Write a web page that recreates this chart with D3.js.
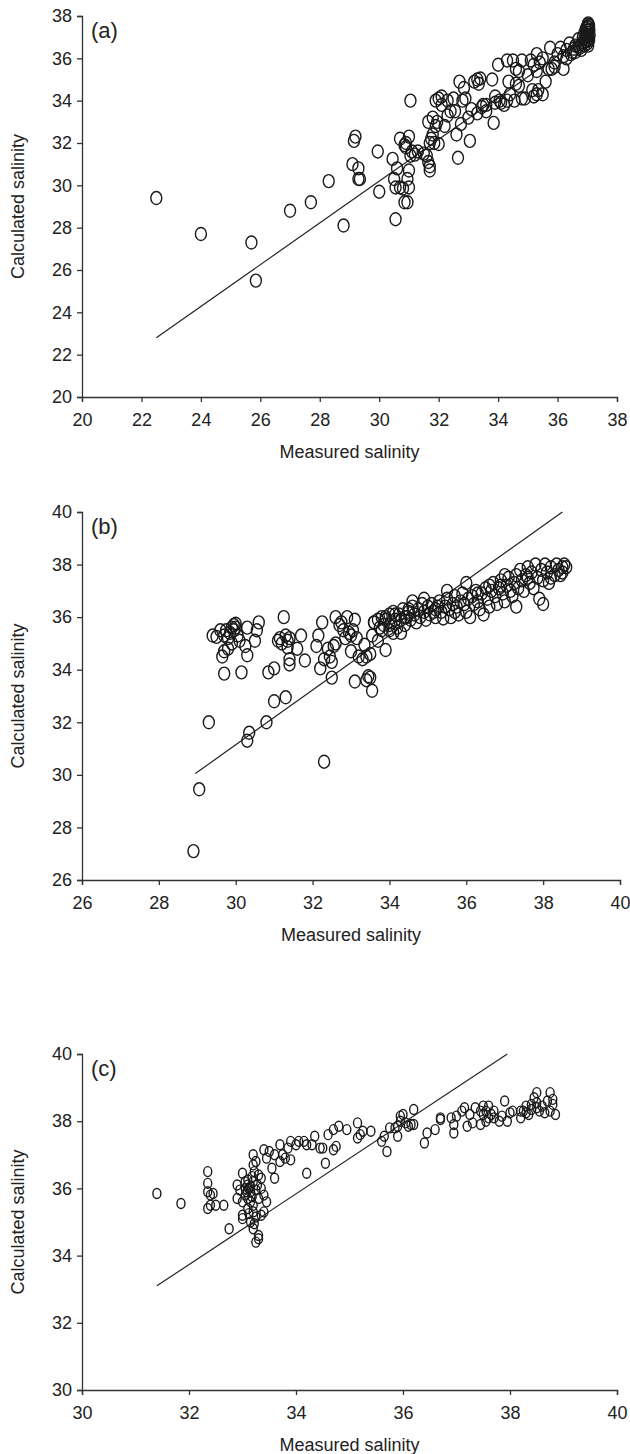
<!DOCTYPE html>
<html>
<head>
<meta charset="utf-8">
<script src="https://cdn.jsdelivr.net/npm/d3@7"></script>
<style>
  body { margin: 0; background: #fff; }
  text { font-family: "Liberation Sans", Arial, sans-serif; fill: #222; }
</style>
</head>
<body>
<div id="chart"></div>
<script>
// ---- panel (a) ----
const ticksA = [20, 22, 24, 26, 28, 30, 32, 34, 36, 38];
const fitA = [[22.5, 22.8], [37.0, 37.1]];
const pointsA = [
  [22.5, 29.4], [24.0, 27.7], [25.7, 27.3], [25.85, 25.5], [27.0, 28.8], [27.7, 29.2],
  [28.3, 30.2], [28.8, 28.1], [29.1, 31.0], [29.15, 32.1], [29.2, 32.3], [29.3, 30.8],
  [29.3, 30.3], [29.35, 30.3], [29.95, 31.6], [30.0, 29.7], [30.45, 31.25], [30.5, 30.3],
  [30.55, 29.9], [30.55, 28.4], [30.6, 30.8], [30.7, 32.2], [30.7, 29.9], [30.8, 29.85],
  [30.85, 31.9], [30.85, 29.2], [30.9, 32.0], [30.95, 29.2], [30.95, 30.3], [31.0, 30.7],
  [31.0, 29.9], [31.0, 32.3], [31.05, 34.0], [31.05, 31.4], [31.1, 31.6], [31.2, 31.45],
  [31.5, 31.5], [31.6, 31.4], [31.65, 31.1], [31.7, 30.9], [31.7, 30.7], [31.65, 33.0],
  [31.75, 32.2], [31.8, 32.4], [31.8, 33.2], [31.85, 32.0], [31.9, 34.0], [31.95, 33.0],
  [32.0, 31.95], [32.0, 34.1], [32.1, 34.2], [32.1, 33.8], [32.2, 32.8], [32.3, 34.0],
  [32.4, 33.5], [32.5, 34.1], [32.55, 33.5], [32.6, 32.4], [32.65, 31.3], [32.7, 34.9],
  [32.75, 32.9], [32.8, 34.0], [32.85, 34.6], [32.9, 34.1], [33.0, 33.2], [33.05, 32.1],
  [33.1, 33.6], [33.2, 34.9], [33.3, 35.0], [33.35, 34.8], [33.4, 35.05], [33.3, 33.4],
  [33.45, 33.7], [33.6, 33.8], [33.8, 35.0], [33.85, 32.95], [33.9, 33.9], [34.0, 35.7],
  [34.05, 34.0], [34.1, 33.9], [34.2, 33.8], [34.3, 34.0], [34.35, 34.9], [34.3, 35.9],
  [34.5, 35.9], [34.55, 34.0], [34.6, 34.8], [34.7, 35.4], [34.8, 35.9], [34.8, 34.1],
  [34.9, 34.1], [35.1, 35.9], [35.15, 34.5], [35.2, 34.2], [35.3, 34.3], [35.35, 34.5],
  [35.3, 36.2], [35.4, 35.8], [35.5, 34.3], [35.5, 36.0], [35.6, 34.9], [35.7, 35.5],
  [35.75, 36.5], [35.8, 35.5], [35.9, 35.6], [36.0, 36.2], [36.1, 36.5], [36.2, 35.5],
  [36.2, 36.1], [36.3, 36.4], [36.4, 36.7], [36.5, 36.3], [36.6, 36.6], [36.7, 36.9],
  [36.75, 36.5], [36.8, 36.7], [36.85, 37.0], [36.9, 37.2], [36.95, 37.4], [37.0, 37.5],
  [37.02, 37.6], [37.05, 36.9], [37.05, 37.3], [37.0, 37.05], [37.05, 37.0], [36.95, 36.8],
  [37.0, 36.7], [37.02, 37.2], [37.04, 37.45], [37.06, 37.55], [36.98, 37.3], [37.0, 36.9],
  [33.5, 33.8], [33.9, 34.2], [34.4, 34.3], [34.7, 34.7], [35.0, 35.2], [35.3, 35.4],
  [35.9, 35.8], [36.3, 36.0], [36.6, 36.3], [36.9, 36.6], [36.8, 36.4], [37.08, 37.1],
  [37.07, 37.35], [37.03, 37.65], [36.97, 37.1], [36.92, 36.95], [36.88, 36.75], [37.06, 36.85],
  [37.03, 36.6], [36.7, 36.55], [36.55, 36.45], [36.45, 36.2], [35.2, 35.7], [34.6, 35.5],
  [33.6, 33.5], [32.3, 33.3], [31.7, 32.0], [31.9, 32.8], [31.3, 31.6], [30.9, 31.8]
];

// ---- panel (b) ----
const ticksB = [26, 28, 30, 32, 34, 36, 38, 40];
const fitB = [[28.95, 30.05], [38.5, 40.0]];
const pointsB = [
  [28.9, 27.1], [29.05, 29.45], [29.3, 32.0], [30.3, 31.3], [30.35, 31.6], [30.8, 32.0],
  [31.0, 32.8], [31.3, 32.95], [32.3, 30.5], [32.5, 33.7], [33.1, 33.55], [33.4, 33.6],
  [33.5, 33.7], [33.55, 33.2], [33.45, 33.75],
  [29.4, 35.3], [29.5, 35.25], [29.6, 35.5], [29.7, 35.3], [29.75, 35.5], [29.8, 35.2],
  [29.85, 35.4], [29.9, 35.6], [29.95, 35.7], [30.0, 35.75], [30.0, 35.6], [29.95, 35.5],
  [30.05, 35.3], [29.9, 35.0], [29.8, 34.8], [29.7, 34.7], [29.65, 34.5], [29.7, 33.85],
  [30.15, 33.9], [30.1, 35.1], [30.25, 34.9], [30.3, 35.6], [30.3, 34.55], [30.5, 35.1],
  [30.55, 35.5], [30.6, 35.8], [30.85, 33.9], [31.0, 34.05], [31.1, 35.1], [31.15, 35.2],
  [31.2, 35.0], [31.25, 36.0], [31.3, 35.3], [31.35, 35.1], [31.4, 35.2], [31.35, 34.85],
  [31.4, 34.4], [31.4, 34.2], [31.6, 34.8], [31.7, 35.3], [31.8, 34.35], [32.1, 34.9],
  [32.15, 35.3], [32.2, 34.05], [32.25, 35.8], [32.3, 34.4], [32.4, 34.8], [32.45, 34.5],
  [32.5, 34.3], [32.55, 34.9], [32.6, 35.0], [32.6, 36.0], [32.7, 35.7], [32.75, 35.8],
  [32.8, 35.5], [32.85, 35.2], [32.9, 36.0], [32.95, 35.4], [33.0, 35.3], [33.0, 34.7],
  [33.05, 35.5], [33.1, 35.9], [33.15, 35.2], [33.2, 34.5], [33.3, 34.4], [33.35, 34.95],
  [33.4, 34.5], [33.5, 34.6], [33.55, 35.3], [33.6, 35.8], [33.7, 35.1], [33.8, 35.5],
  [33.9, 34.75], [33.9, 36.0], [34.0, 35.7], [34.1, 35.4], [34.15, 36.1], [34.3, 35.4],
  [34.4, 36.0], [34.5, 36.3],
  [33.6, 35.8], [33.7, 35.9], [33.75, 35.6], [33.8, 36.0], [33.85, 35.7], [33.9, 35.9],
  [34.0, 36.1], [34.0, 35.5], [34.05, 35.8], [34.1, 36.2], [34.15, 35.9], [34.2, 35.6],
  [34.25, 36.1], [34.3, 35.9], [34.35, 36.3], [34.4, 35.7], [34.45, 36.0], [34.5, 36.2],
  [34.55, 35.9], [34.6, 36.4], [34.65, 36.1], [34.7, 35.8], [34.75, 36.3], [34.8, 36.0],
  [34.85, 36.5], [34.9, 36.2], [34.95, 35.9], [35.0, 36.4], [35.05, 36.1], [35.1, 36.5],
  [35.15, 36.2], [35.2, 36.0], [35.25, 36.4], [35.3, 36.6], [35.35, 36.2], [35.4, 35.95],
  [35.45, 36.4], [35.5, 36.7], [35.55, 36.3], [35.6, 36.0], [35.65, 36.5], [35.7, 36.8],
  [35.75, 36.4], [35.8, 36.1], [35.85, 36.6], [35.9, 36.9], [35.95, 36.5], [36.0, 37.3],
  [36.0, 36.2], [36.05, 36.7], [36.1, 36.0], [36.15, 36.8], [36.2, 36.5], [36.25, 37.0],
  [36.3, 36.6], [36.35, 36.3], [36.4, 36.9], [36.45, 36.1], [36.5, 37.1], [36.55, 36.7],
  [36.6, 36.4], [36.65, 37.0], [36.7, 37.3], [36.75, 36.8], [36.8, 36.5], [36.85, 37.1],
  [36.9, 37.4], [36.95, 36.9], [37.0, 36.6], [37.05, 37.2], [37.1, 37.5], [37.15, 37.0],
  [37.2, 36.8], [37.25, 37.3], [37.3, 37.6], [37.3, 36.4], [37.35, 37.1], [37.4, 37.8],
  [37.45, 37.4], [37.5, 37.0], [37.55, 37.6], [37.6, 37.9], [37.65, 37.3], [37.7, 37.7],
  [37.75, 37.1], [37.8, 38.0], [37.85, 37.5], [37.9, 36.7], [37.95, 37.8], [38.0, 36.5],
  [38.0, 37.4], [38.05, 38.0], [38.1, 37.7], [38.15, 37.3], [38.2, 37.9], [38.3, 37.6],
  [38.35, 38.0], [38.4, 37.8], [38.45, 37.6], [38.5, 37.9], [38.55, 38.0], [38.6, 37.9],
  [36.9, 37.2], [36.3, 36.9], [35.7, 36.2], [35.2, 36.3], [35.5, 37.0], [34.9, 36.7],
  [34.6, 36.6], [36.6, 37.2], [37.0, 37.6], [37.6, 37.5], [38.2, 37.5], [38.5, 37.7]
];

// ---- panel (c) ----
const ticksC = [30, 32, 34, 36, 38, 40];
const fitC = [[31.4, 33.1], [37.95, 40.0]];
const pointsC = [
  [31.4, 35.85], [31.85, 35.55], [32.35, 36.5], [32.35, 36.15], [32.35, 35.9], [32.4, 35.8],
  [32.35, 35.4], [32.4, 35.5], [32.45, 35.85], [32.5, 35.5], [32.65, 35.5], [32.75, 34.8],
  [32.9, 35.7], [32.9, 36.1], [32.95, 35.95], [33.0, 36.45], [33.0, 35.6], [33.0, 35.2],
  [33.0, 35.1], [33.05, 36.0], [33.1, 36.1], [33.12, 36.0], [33.08, 35.9], [33.15, 35.9],
  [33.2, 36.2], [33.2, 35.5], [33.15, 35.0], [33.2, 34.8], [33.25, 34.4], [33.3, 34.5],
  [33.3, 34.6], [33.2, 36.7], [33.25, 36.8], [33.2, 37.0], [33.4, 37.15], [33.35, 36.3],
  [33.4, 35.8], [33.45, 35.6], [33.4, 35.3], [33.35, 35.2], [33.45, 36.9], [33.1, 35.7],
  [33.15, 35.6], [33.1, 35.4], [33.18, 36.35], [33.22, 36.5], [33.1, 36.25], [33.05, 35.8],
  [33.15, 36.05], [33.2, 35.3], [33.25, 35.15], [33.28, 36.1], [33.3, 36.4], [33.12, 35.25],
  [33.18, 35.75], [33.25, 35.95], [33.05, 36.2], [33.3, 35.7], [33.22, 34.95], [33.35, 36.0],
  [33.5, 37.1], [33.55, 36.6], [33.6, 37.0], [33.6, 36.3], [33.7, 36.8], [33.7, 37.3],
  [33.75, 37.0], [33.8, 36.9], [33.85, 37.2], [33.9, 36.85], [33.9, 37.4], [34.0, 37.3],
  [34.05, 37.4], [34.15, 37.4], [34.2, 37.3], [34.2, 36.45], [34.3, 37.3], [34.35, 37.55],
  [34.45, 37.2], [34.5, 37.2], [34.55, 36.75], [34.6, 37.6], [34.7, 37.15], [34.7, 37.75],
  [34.75, 37.25], [34.8, 37.85], [34.95, 37.75], [35.15, 37.95], [35.15, 37.5], [35.2, 37.6],
  [35.25, 37.7], [35.4, 37.7], [35.6, 37.4], [35.65, 37.55], [35.7, 37.1], [35.75, 37.8],
  [35.85, 37.8], [35.9, 37.55], [35.9, 37.85], [35.95, 38.15], [35.95, 38.0], [36.0, 38.2],
  [36.05, 37.95], [36.1, 37.85], [36.15, 37.9], [36.2, 38.35], [36.2, 37.9], [36.4, 37.35],
  [36.45, 37.65], [36.6, 37.75], [36.7, 38.05], [36.7, 38.1], [36.9, 38.1], [36.95, 37.65],
  [36.95, 37.9], [37.0, 38.15], [37.1, 38.3], [37.15, 38.4], [37.2, 37.85], [37.25, 38.2],
  [37.3, 37.95], [37.35, 38.4], [37.45, 37.9], [37.5, 38.45], [37.5, 38.2], [37.55, 38.0],
  [37.55, 38.3], [37.6, 38.45], [37.65, 38.2], [37.7, 38.1], [37.7, 38.3], [37.8, 38.0],
  [37.85, 38.15], [37.9, 38.6], [37.95, 38.0], [38.0, 38.25], [38.05, 38.3], [38.2, 38.1],
  [38.25, 38.3], [38.3, 38.25], [38.3, 38.45], [38.35, 38.2], [38.4, 38.35], [38.45, 38.7],
  [38.5, 38.85], [38.5, 38.55], [38.55, 38.3], [38.6, 38.45], [38.65, 38.25], [38.7, 38.6],
  [38.75, 38.85], [38.8, 38.5], [38.8, 38.65], [38.85, 38.2], [38.75, 38.3], [37.45, 38.3],
  [37.6, 38.1], [38.5, 38.4], [38.2, 38.3], [38.4, 38.5]
];

const xTitle = "Measured salinity";
const yTitle = "Calculated salinity";

const width = 630, height = 1454;
const svg = d3.select("#chart").append("svg")
  .attr("width", width)
  .attr("height", height);

function drawPanel(cfg) {
  const x = d3.scaleLinear().domain(cfg.domain).range([cfg.left, cfg.right]);
  const y = d3.scaleLinear().domain(cfg.domain).range([cfg.bottom, cfg.top]);
  const g = svg.append("g");

  // axes (Excel style: outward ticks)
  const xAxis = g.append("g")
    .attr("transform", "translate(0," + cfg.bottom + ")")
    .call(d3.axisBottom(x).tickValues(cfg.ticks).tickSize(5).tickSizeOuter(5).tickPadding(11));
  const yAxis = g.append("g")
    .attr("transform", "translate(" + cfg.left + ",0)")
    .call(d3.axisLeft(y).tickValues(cfg.ticks).tickSize(5).tickSizeOuter(5).tickPadding(5));
  [xAxis, yAxis].forEach(a => {
    a.selectAll("path, line").attr("stroke", "#333").attr("stroke-width", 1.3);
    a.selectAll("text").attr("font-size", 18).attr("fill", "#222")
      .attr("font-family", '"Liberation Sans", Arial, sans-serif');
  });

  // fitted line
  g.append("path")
    .datum(cfg.fit)
    .attr("fill", "none")
    .attr("stroke", "#222")
    .attr("stroke-width", 1.2)
    .attr("d", d3.line().x(d => x(d[0])).y(d => y(d[1])));

  // points
  g.append("g").selectAll("ellipse")
    .data(cfg.points)
    .join("ellipse")
    .attr("cx", d => x(d[0]))
    .attr("cy", d => y(d[1]))
    .attr("rx", cfg.rx)
    .attr("ry", cfg.ry)
    .attr("fill", "none")
    .attr("stroke", "#1a1a1a")
    .attr("stroke-width", 1.4);

  // panel letter
  g.append("text")
    .attr("x", cfg.left + 9)
    .attr("y", cfg.top + 22)
    .attr("font-size", 22)
    .text(cfg.label);

  // axis titles
  g.append("text")
    .attr("x", (cfg.left + cfg.right) / 2)
    .attr("y", cfg.bottom + 61)
    .attr("text-anchor", "middle")
    .attr("font-size", 18)
    .text(xTitle);
  g.append("text")
    .attr("transform", "translate(24," + (cfg.top + cfg.bottom) / 2 + ") rotate(-90)")
    .attr("text-anchor", "middle")
    .attr("font-size", 18)
    .text(yTitle);
}

drawPanel({ domain: [20, 38], ticks: ticksA, points: pointsA, fit: fitA, label: "(a)",
  left: 82, right: 617, top: 16, bottom: 397, rx: 5.5, ry: 6.5 });
drawPanel({ domain: [26, 40], ticks: ticksB, points: pointsB, fit: fitB, label: "(b)",
  left: 82, right: 620, top: 512, bottom: 880, rx: 5.5, ry: 6.5 });
drawPanel({ domain: [30, 40], ticks: ticksC, points: pointsC, fit: fitC, label: "(c)",
  left: 82, right: 617, top: 1054, bottom: 1390, rx: 4, ry: 5 });
</script>
</body>
</html>
